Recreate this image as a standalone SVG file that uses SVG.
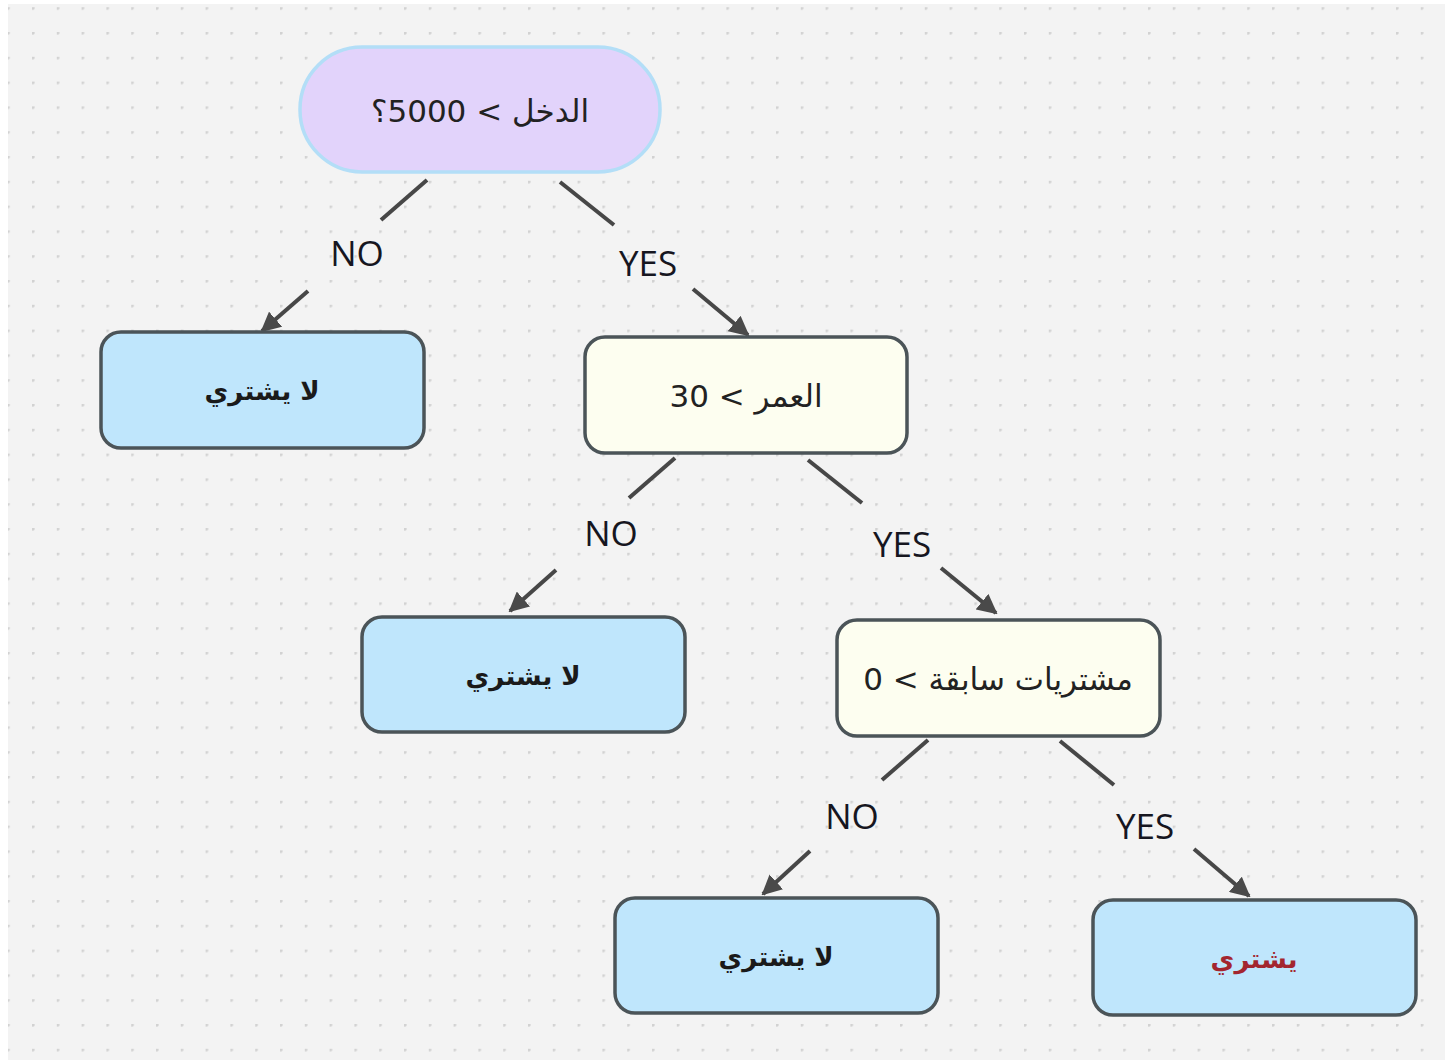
<svg xmlns="http://www.w3.org/2000/svg" width="1445" height="1060" viewBox="0 0 1445 1060">
<defs>
<pattern id="dots" x="7.2" y="7.2" width="24.8" height="24.8" patternUnits="userSpaceOnUse">
<circle cx="1" cy="1" r="1.7" fill="#d2d2d2"/>
</pattern>
<marker id="arr" viewBox="0 0 20 20" refX="18" refY="10" markerWidth="20" markerHeight="20" markerUnits="userSpaceOnUse" orient="auto">
<path d="M0,0 L20,10 L0,20 z" fill="#4a4a4a"/>
</marker>
<style>
.bg{fill:#f3f3f3}
.leaf{fill:#bfe6fc;stroke:#4b5458;stroke-width:3.5}
.dec{fill:#fdfef0;stroke:#4b5458;stroke-width:3.5}
.root{fill:#e2d3fb;stroke:#b3def7;stroke-width:3.5}
.ar{font-family:"DejaVu Sans",sans-serif;font-size:31px;fill:#222;text-anchor:middle;direction:rtl}
.arb{font-family:"DejaVu Sans",sans-serif;font-size:26px;font-weight:bold;fill:#1a1a1a;text-anchor:middle;direction:rtl}
.red{fill:#a3262f}
.lbl{font-family:"Open Sans",sans-serif;font-size:35px;fill:#16161f;text-anchor:middle}
.ln{stroke:#474747;stroke-width:4;fill:none}
</style>
</defs>
<rect width="1445" height="1060" fill="#ffffff"/>
<rect class="bg" x="8" y="4" width="1437" height="1056"/>
<rect x="8" y="4" width="1437" height="1056" fill="url(#dots)"/>

<g id="connectors">
<line class="ln" x1="427" y1="180" x2="381" y2="220"/>
<line class="ln" x1="308" y1="291" x2="262" y2="331" marker-end="url(#arr)"/>
<text class="lbl" x="357" y="266">NO</text>

<line class="ln" x1="560" y1="182" x2="614" y2="225"/>
<line class="ln" x1="693" y1="289" x2="748" y2="335" marker-end="url(#arr)"/>
<text class="lbl" x="648" y="276">YES</text>

<line class="ln" x1="675" y1="458" x2="629" y2="498"/>
<line class="ln" x1="556" y1="570" x2="510" y2="611" marker-end="url(#arr)"/>
<text class="lbl" x="611" y="546">NO</text>

<line class="ln" x1="808" y1="460" x2="862" y2="503"/>
<line class="ln" x1="941" y1="568" x2="996" y2="613" marker-end="url(#arr)"/>
<text class="lbl" x="902" y="557">YES</text>

<line class="ln" x1="928" y1="740" x2="882" y2="780"/>
<line class="ln" x1="810" y1="851" x2="763" y2="894" marker-end="url(#arr)"/>
<text class="lbl" x="852" y="829">NO</text>

<line class="ln" x1="1060" y1="741" x2="1114" y2="785"/>
<line class="ln" x1="1194" y1="849" x2="1249" y2="896" marker-end="url(#arr)"/>
<text class="lbl" x="1145" y="839">YES</text>
</g>

<g id="n-income">
<rect class="root" x="300" y="47" width="360" height="125" rx="62" ry="62"/>
<text class="ar" x="480" y="122">الدخل &gt; 5000؟</text>
</g>

<g id="leaf-1">
<rect class="leaf" x="101" y="332" width="323" height="116" rx="20" ry="20"/>
<text class="arb" x="262" y="400">لا يشتري</text>
</g>

<g id="n-age">
<rect class="dec" x="585" y="337" width="322" height="116" rx="20" ry="20"/>
<text class="ar" x="746" y="407">العمر &gt; 30</text>
</g>

<g id="leaf-2">
<rect class="leaf" x="362" y="617" width="323" height="115" rx="20" ry="20"/>
<text class="arb" x="523" y="685">لا يشتري</text>
</g>

<g id="n-purchases">
<rect class="dec" x="837" y="620" width="323" height="116" rx="20" ry="20"/>
<text class="ar" x="998" y="690">مشتريات سابقة &gt; 0</text>
</g>

<g id="leaf-3">
<rect class="leaf" x="615" y="898" width="323" height="115" rx="20" ry="20"/>
<text class="arb" x="776" y="966">لا يشتري</text>
</g>

<g id="leaf-4">
<rect class="leaf" x="1093" y="900" width="323" height="115" rx="20" ry="20"/>
<text class="arb red" x="1254" y="968">يشتري</text>
</g>
</svg>
